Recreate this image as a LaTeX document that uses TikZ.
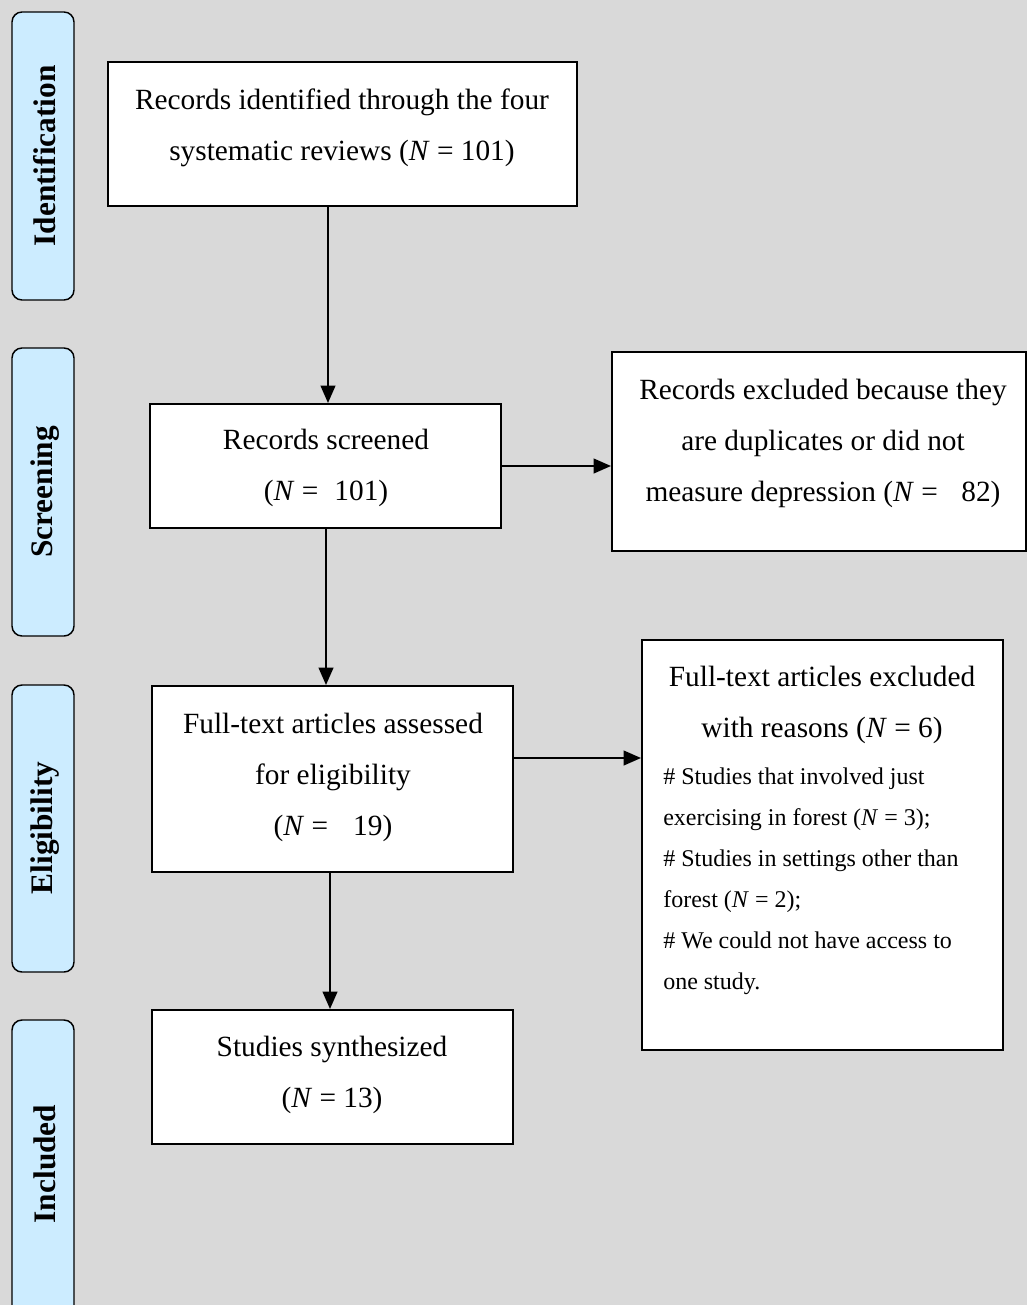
\documentclass[tikz,border=0pt]{standalone}
\usepackage{fontspec}
\setmainfont{Liberation Serif}
\usetikzlibrary{arrows.meta,fit,calc}
\definecolor{bggray}{HTML}{D9D9D9}
\definecolor{labblue}{HTML}{CCECFF}
\begin{document}
\begin{tikzpicture}[x=0.75pt,y=-0.75pt,
  box/.style={draw=black, line width=1.5pt, fill=white, inner sep=0pt},
  lab/.style={draw=black, line width=1.1pt, fill=labblue, rounded corners=7.5pt, inner sep=0pt},
  labtxt/.style={rotate=90, inner sep=0pt, font=\fontsize{23.5}{28}\selectfont\bfseries},
  maintxt/.style={align=center, inner sep=0pt, font=\fontsize{22}{38.25}\selectfont},
  smalltxt/.style={align=left, inner sep=0pt, font=\fontsize{18}{30.75}\selectfont},
  arr/.style={line width=1.5pt, -{Triangle[length=13pt,width=11pt]}}]
\useasboundingbox (0,0) rectangle (1027,1305);
\fill[bggray] (0,0) rectangle (1027,1305);

% stage labels
\node[lab, fit={(12,12)(74,300)}] (l1) {};
\node[labtxt] (l1t) at (45,156) {Identification};
\node[lab, fit={(12,348)(74,636)}] (l2) {};
\node[labtxt] (l2t) at (45,492) {Screening};
\node[lab, fit={(12,685)(74,972)}] (l3) {};
\node[labtxt] (l3t) at (45,828) {Eligibility};
\node[lab, fit={(12,1020)(74,1318)}] (l4) {};
\node[labtxt] (l4t) at (45,1164) {Included};

% boxes
\node[box, fit={(108,62)(577,206)}] (b1) {};
\node[maintxt] (b1t) at (342,128) {Records identified through the four\\systematic reviews (\textit{N} = 101)};

\node[box, fit={(150,404)(501,528)}] (b2) {};
\node[maintxt] (b2t) at (326,468) {Records screened\\(\textit{N} =\hspace{0.3em} 101)};

\node[box, fit={(612,352)(1025.5,551)}] (b3) {};
\node[maintxt] (b3t) at (823,443) {Records excluded because they\\are duplicates or did not\\measure depression (\textit{N} =\hspace{0.55em} 82)};

\node[box, fit={(152,686)(513,872)}] (b4) {};
\node[maintxt] (b4t) at (333,777) {Full-text articles assessed\\for eligibility\\(\textit{N} =\hspace{0.6em} 19)};

\node[box, fit={(642,640)(1003,1050)}] (b5) {};
\node[maintxt] (b5t) at (822,705) {Full-text articles excluded\\with reasons (\textit{N} = 6)};
\node[smalltxt, anchor=west] (b5l) at (663,881) {\# Studies that involved just\\exercising in forest (\textit{N} = 3);\\\# Studies in settings other than\\forest (\textit{N} = 2);\\\# We could not have access to\\one study.};

\node[box, fit={(152,1010)(513,1144)}] (b6) {};
\node[maintxt] (b6t) at (332,1075) {Studies synthesized\\(\textit{N} = 13)};

% connectors
\draw[arr] (b1.south -| 328,0) -- (b2.north -| 328,0);
\draw[arr] (b2.east) -- (b2.east -| b3.west);
\draw[arr] (b2.south -| 326,0) -- (b4.north -| 326,0);
\coordinate (c4) at ($(b4.east)+(-2,-21)$);
\draw[arr] (c4) -- (c4 -| b5.west);
\draw[arr] (b4.south -| 330,0) -- (b6.north -| 330,0);
\end{tikzpicture}
\end{document}
